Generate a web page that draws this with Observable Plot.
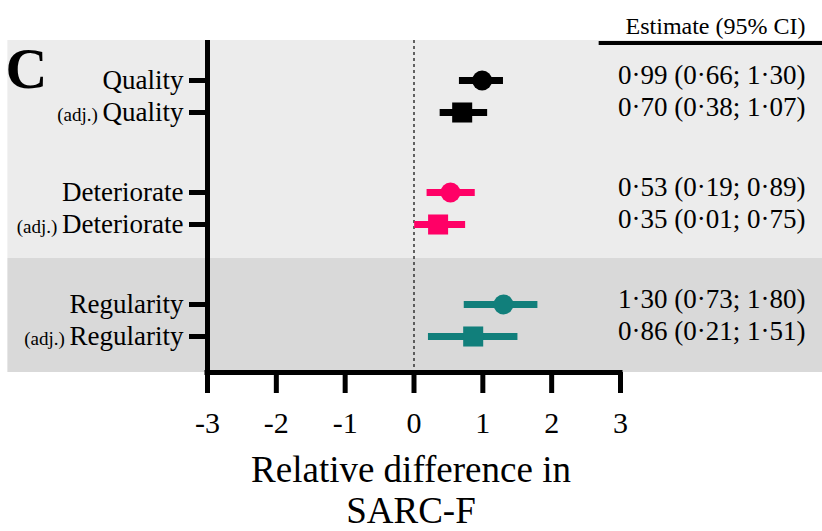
<!DOCTYPE html>
<html><head><meta charset="utf-8">
<script src="https://cdn.jsdelivr.net/npm/d3@7"></script>
<script src="https://cdn.jsdelivr.net/npm/@observablehq/plot@0.6"></script>
<style>body{margin:0;background:#fff}</style>
</head><body><div id="chart"></div>
<script>
const labels = ["Quality","(adj.) Quality","Deteriorate","(adj.) Deteriorate","Regularity","(adj.) Regularity"];
const groups = [0,0,1,1,2,2];
const adjusted = [false,true,false,true,false,true];
const estimates = [0.99,0.70,0.53,0.35,1.30,0.86];
const lower = [0.66,0.38,0.19,0.01,0.73,0.21];
const upper = [1.30,1.07,0.89,0.75,1.80,1.51];
const groupColors = ["#000000","#ff0066","#117f7b"];
const xTicks = [-3,-2,-1,0,1,2,3];
const headerText = "Estimate (95% CI)";
const panelLetter = "C";
const xTitle = "Relative difference in\nSARC-F";

const fmt = v => v.toFixed(2).replace(".", "·");
const rows = labels.map((label, i) => ({
  label, adj: adjusted[i], est: estimates[i], lo: lower[i], hi: upper[i],
  pos: groups[i] * 7 + (adjusted[i] ? 2 : 0),
  color: groupColors[groups[i]],
  text: `${fmt(estimates[i])} (${fmt(lower[i])}; ${fmt(upper[i])})`
}));
const labelByPos = new Map(rows.map(d => [d.pos, d.label]));
const bands = [{y1: -2.5, y2: 11.125, fill: "#ececec"}, {y1: 11.125, y2: 18.25, fill: "#d9d9d9"}];
const font = "'Liberation Serif', 'Times New Roman', serif";

const chart = Plot.plot({
  width: 822, height: 531,
  marginLeft: 207, marginRight: 202, marginTop: 40, marginBottom: 159,
  style: {fontFamily: font, background: "#fff", color: "#000"},
  x: {domain: [-3, 3], axis: null},
  y: {domain: [18.25, -2.5], axis: null},
  color: {type: "identity"},
  marks: [
    Plot.rect(bands, {x1: -5.9, x2: 6, y1: "y1", y2: "y2", fill: "fill"}),
    Plot.ruleX([0], {y1: -2.5, y2: 18.25, stroke: "#333", strokeWidth: 1.5, strokeDasharray: "3,3"}),
    Plot.ruleY(rows, {y: "pos", x1: "lo", x2: "hi", stroke: "color", strokeWidth: 7}),
    Plot.dot(rows.filter(d => !d.adj), {x: "est", y: "pos", r: 10, fill: "color"}),
    Plot.dot(rows.filter(d => d.adj), {x: "est", y: "pos", r: 11.3, symbol: "square", fill: "color"}),
    Plot.ruleX([-3], {y1: -2.5, y2: 18.25, strokeWidth: 5}),
    Plot.ruleY([18.25], {x1: -3, x2: 3, strokeWidth: 5, strokeLinecap: "square"}),
    Plot.axisX(xTicks, {anchor: "bottom", tickSize: 21, tickPadding: 18, strokeWidth: 5, fontSize: 30, label: null, tickFormat: d => String(d)}),
    Plot.axisY(rows.map(d => d.pos), {anchor: "left", tickSize: 18, tickPadding: 6, strokeWidth: 5, fontSize: 27, label: null, tickFormat: p => labelByPos.get(p)}),
    Plot.text(rows, {y: "pos", frameAnchor: "right", dx: 185, dy: -5, text: "text", textAnchor: "end", fontSize: 27}),
    Plot.text([headerText], {frameAnchor: "top-right", dx: 185, dy: -24, lineAnchor: "top", textAnchor: "end", fontSize: 24}),
    Plot.ruleY([-2.5], {x1: 2.69, x2: 6, strokeWidth: 4, dy: 2.5}),
    Plot.text([panelLetter], {frameAnchor: "top-left", dx: -202, dy: 6, lineAnchor: "top", textAnchor: "start", fontSize: 58, fontWeight: "bold"}),
    Plot.text([xTitle], {frameAnchor: "bottom", dx: -3, dy: 80, lineAnchor: "top", lineHeight: 1.12, fontSize: 37})
  ]
});

d3.select(chart).selectAll("text").each(function() {
  const t = this.textContent;
  if (t.startsWith("(adj.) ") && this.children.length === 0) {
    const rest = t.slice(7);
    this.textContent = "";
    d3.select(this).append("tspan").attr("font-size", 19).text("(adj.) ");
    d3.select(this).append("tspan").text(rest);
  }
});
document.getElementById("chart").append(chart);
</script>
</body></html>
